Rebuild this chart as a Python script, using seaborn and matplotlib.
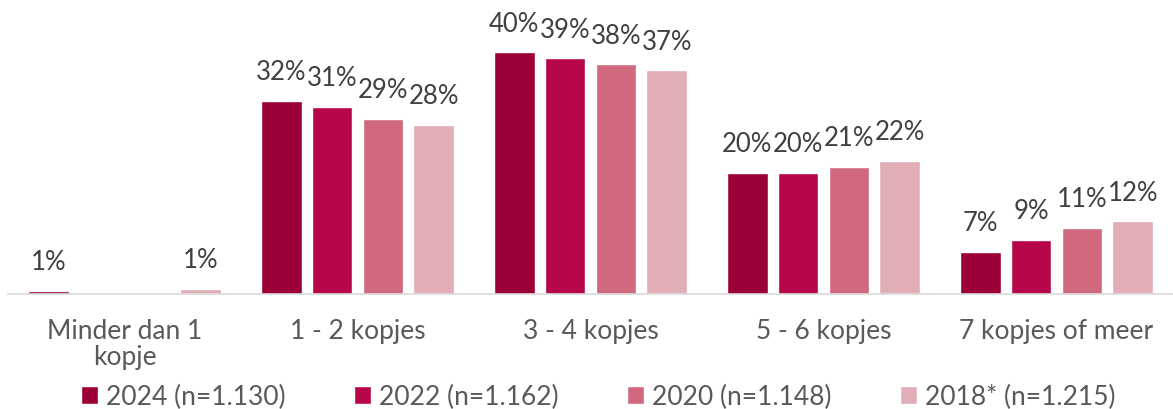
import matplotlib.pyplot as plt
import seaborn as sns
import pandas as pd

categories = ['Minder dan 1\nkopje', '1 - 2 kopjes', '3 - 4 kopjes', '5 - 6 kopjes', '7 kopjes of meer']
years = ['2024 (n=1.130)', '2022 (n=1.162)', '2020 (n=1.148)', '2018* (n=1.215)']
values = {
    '2024 (n=1.130)': [0.5, 32, 40, 20, 7],
    '2022 (n=1.162)': [0, 31, 39, 20, 9],
    '2020 (n=1.148)': [0, 29, 38, 21, 11],
    '2018* (n=1.215)': [0.8, 28, 37, 22, 12],
}
labels = {
    '2024 (n=1.130)': ['1%', '32%', '40%', '20%', '7%'],
    '2022 (n=1.162)': ['', '31%', '39%', '20%', '9%'],
    '2020 (n=1.148)': ['', '29%', '38%', '21%', '11%'],
    '2018* (n=1.215)': ['1%', '28%', '37%', '22%', '12%'],
}
colors = ['#9B0038', '#B8064A', '#D0687E', '#E1AEB8']

rows = []
for y in years:
    for c, v in zip(categories, values[y]):
        rows.append({'cat': c, 'year': y, 'val': v})
df = pd.DataFrame(rows)

sns.set_style('white')
plt.rcParams['font.family'] = ['Lato', 'DejaVu Sans']

fig = plt.figure(figsize=(11.73, 4.10), dpi=100)
ax = fig.add_axes([8 / 1173, 115 / 410, 1165 / 1173, 295 / 410])
sns.barplot(data=df, x='cat', y='val', hue='year', palette=colors, saturation=1,
            width=0.872, gap=0.2, ax=ax, legend=True)

# data labels
for cont, y in zip(ax.containers, years):
    for bar, lab in zip(cont, labels[y]):
        if lab:
            ax.annotate(lab, (bar.get_x() + bar.get_width() / 2, bar.get_height()),
                        xytext=(0, 12), textcoords='offset points',
                        ha='center', va='bottom', fontsize=18.5, color='#404040')

ax.set_ylim(0, 48.8)
ax.set_xlim(-0.50, 4.49)
ax.set_xlabel('')
ax.set_ylabel('')
ax.set_yticks([])
for s in ['top', 'right', 'left']:
    ax.spines[s].set_visible(False)
ax.spines['bottom'].set_color('#D9D9D9')
ax.spines['bottom'].set_linewidth(1.2)
ax.set_xticks(range(5))
ax.set_xticklabels(categories, fontsize=19, color='#595959', linespacing=1.05)
ax.tick_params(axis='x', which='major', length=0, pad=17)
ax.set_xticks([-0.5, 0.5, 1.5, 2.5, 3.5, 4.5], minor=True)
ax.tick_params(axis='x', which='minor', length=7, color='#D9D9D9', width=1.2)

handles, labs = ax.get_legend_handles_labels()
ax.legend_.remove()
fig.legend(handles, labs, loc='center', bbox_to_anchor=(0.51, 0.03), ncol=4,
           frameon=False, handlelength=0.65, handleheight=0.65, handletextpad=0.3,
           columnspacing=2.6, prop={'size': 19}, labelcolor='#595959')

fig.savefig('out.png', dpi=100)
